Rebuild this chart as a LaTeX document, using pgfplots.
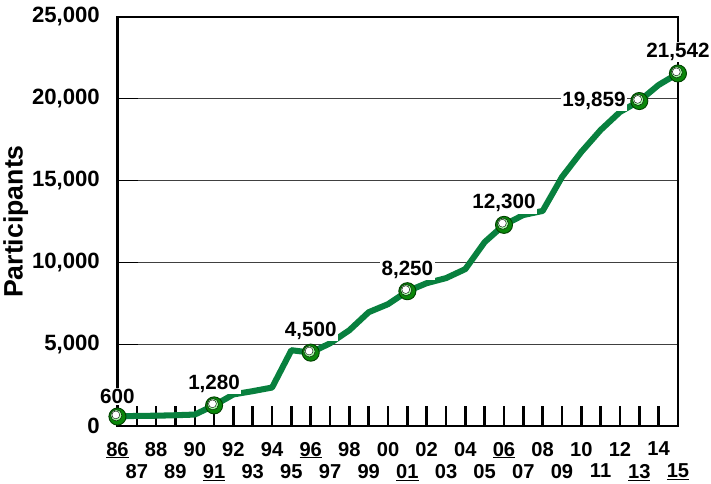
\documentclass[border=0pt]{standalone}
\usepackage{fontspec}
\setmainfont{Liberation Sans}
\usepackage{pgfplots}
\pgfplotsset{compat=1.18}

\definecolor{linegreen}{RGB}{8,128,62}
\definecolor{markgreen}{RGB}{10,135,10}
\newcommand{\ul}[1]{\underline{#1}}

\begin{document}
\begin{tikzpicture}
\begin{axis}[
    scale only axis,
    width=557pt, height=407pt,
    xmin=1986, xmax=2015,
    ymin=0, ymax=25000,
    clip=false,
    axis line style={black, line width=2.2pt},
    tick align=inside,
    xtick pos=bottom, ytick pos=left,
    major tick length=20pt,
    xtick style={black, line width=2.5pt},
    xtick={1986,1988,...,2014},
    xticklabels={\ul{86},88,90,92,94,\ul{96},98,00,02,04,\ul{06},08,10,12,14},
    extra x ticks={1987,1989,...,2015},
    extra x tick labels={87,89,\ul{91},93,95,97,99,\ul{01},03,05,07,09,11,\ul{13},\ul{15}},
    extra x tick style={xtick style={black, line width=2.5pt},
        xticklabel style={yshift=-22pt}},
    xticklabel style={font=\fontsize{20}{22}\selectfont\bfseries, yshift=-12pt},
    ytick={0,5000,...,25000},
    ymajorgrids,
    major grid style={black!75, line width=0.8pt},
    ytick style={black, line width=1.5pt},
    scaled y ticks=false,
    yticklabel style={font=\fontsize{22}{24}\selectfont\bfseries, xshift=-14pt,
        /pgf/number format/assume math mode=true,
        /pgf/number format/1000 sep={,}},
    ylabel={Participants},
    ylabel style={font=\fontsize{26.5}{28}\selectfont\bfseries, yshift=-3pt},
]

% participants per year
\addplot[color=linegreen, line width=6pt, line join=round, mark=none] coordinates {
    (1986,600) (1987,640) (1988,650) (1989,680) (1990,720)
    (1991,1280) (1992,1950) (1993,2150) (1994,2370) (1995,4650)
    (1996,4500) (1997,5070) (1998,5870) (1999,6970) (2000,7460)
    (2001,8250) (2002,8740) (2003,9050) (2004,9600) (2005,11250)
    (2006,12300) (2007,12900) (2008,13150) (2009,15220) (2010,16750)
    (2011,18090) (2012,19190) (2013,19859) (2014,20840) (2015,21542)
};

% labels above
\addplot[only marks, mark=none, point meta=explicit symbolic,
    nodes near coords,
    nodes near coords style={anchor=south, yshift=11pt, fill=white, inner sep=1.5pt,
        font=\fontsize{20.5}{22}\selectfont\bfseries}] coordinates {
    (1986,600) [600]
    (1991,1280) [1,280]
    (1996,4500) [4,500]
    (2001,8250) [8,250]
    (2006,12300) [12,300]
    (2015,21542) [21,542]
};
% label left
\addplot[only marks, mark=none, point meta=explicit symbolic,
    nodes near coords,
    nodes near coords style={anchor=east, xshift=-12pt, yshift=0pt, fill=white, inner sep=1.5pt,
        font=\fontsize{20.5}{22}\selectfont\bfseries}] coordinates {
    (2013,19859) [19,859]
};

% markers on top: green disc with a white highlight
\addplot[only marks, mark=*, mark size=8.5pt,
    mark options={fill=markgreen, draw=black!75!green, line width=0.9pt}] coordinates {
    (1986,600) (1991,1280) (1996,4500) (2001,8250)
    (2006,12300) (2013,19859) (2015,21542)
};
\addplot[only marks, mark=*, mark size=5.6pt,
    mark options={fill=green!35!white, draw=none, xshift=-1.2pt, yshift=1.2pt}] coordinates {
    (1986,600) (1991,1280) (1996,4500) (2001,8250)
    (2006,12300) (2013,19859) (2015,21542)
};
\addplot[only marks, mark=*, mark size=3.9pt,
    mark options={fill=white, draw=none, xshift=-1.6pt, yshift=1.6pt}] coordinates {
    (1986,600) (1991,1280) (1996,4500) (2001,8250)
    (2006,12300) (2013,19859) (2015,21542)
};
\end{axis}
% a little room above the top label
\path ([yshift=4pt]current bounding box.north);
\end{tikzpicture}
\end{document}
